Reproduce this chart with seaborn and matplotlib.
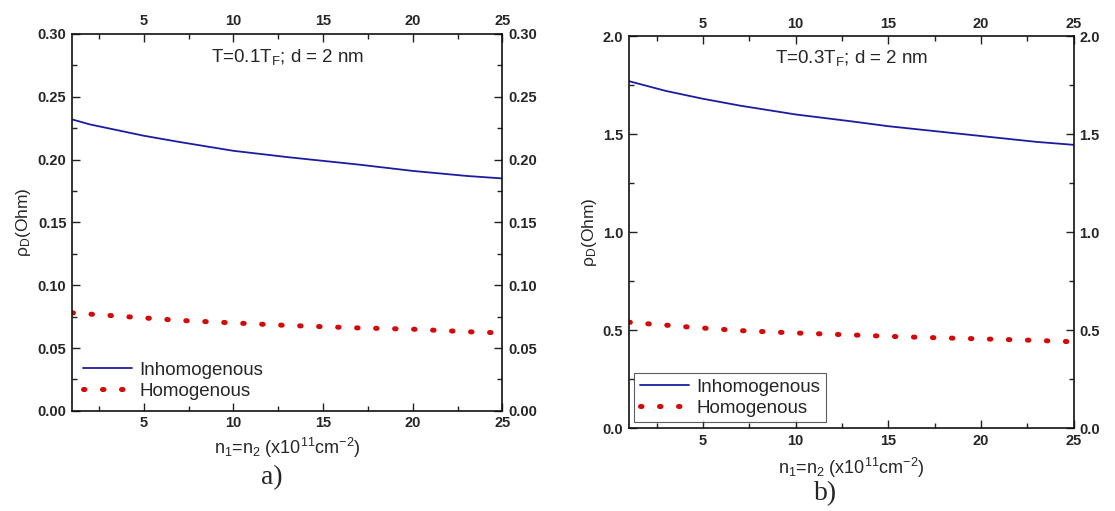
import numpy as np
import pandas as pd
import matplotlib
matplotlib.use("Agg")
import matplotlib.pyplot as plt
import seaborn as sns
from matplotlib.ticker import MultipleLocator

x_vals = [1, 2, 3, 4, 5, 7, 10, 13, 15, 17, 20, 23, 25]
inhom_a = [0.232, 0.228, 0.225, 0.222, 0.219, 0.214, 0.207, 0.202, 0.199, 0.196, 0.191, 0.187, 0.185]
hom_a = [0.078, 0.077, 0.076, 0.075, 0.074, 0.072, 0.070, 0.068, 0.067, 0.066, 0.065, 0.063, 0.062]
inhom_b = [1.77, 1.745, 1.72, 1.70, 1.68, 1.645, 1.60, 1.565, 1.54, 1.52, 1.49, 1.46, 1.445]
hom_b = [0.54, 0.532, 0.525, 0.517, 0.51, 0.497, 0.485, 0.475, 0.468, 0.462, 0.455, 0.447, 0.44]
series_names = ["Inhomogenous", "Homogenous"]
titles = [r"T=0.1T$_{\mathrm{F}}$; d = 2 nm", r"T=0.3T$_{\mathrm{F}}$; d = 2 nm"]
panel_labels = ["a)", "b)"]

sns.set_theme(style="ticks")
plt.rcParams['font.family'] = ['Liberation Sans', 'DejaVu Sans']
plt.rcParams['mathtext.fontset'] = 'custom'
plt.rcParams['mathtext.rm'] = 'Liberation Sans'
plt.rcParams['mathtext.it'] = 'Liberation Sans'
plt.rcParams['mathtext.bf'] = 'Liberation Sans:bold'

fig = plt.figure(figsize=(11.15, 5.11), dpi=100)
ax_a = fig.add_axes([0.0646, 0.196, 0.386, 0.7375])
ax_b = fig.add_axes([0.564, 0.1624, 0.399, 0.767])

blue = "#1c1ca0"
red = "#d40a0a"

def make_df(inh, hom):
    return pd.DataFrame({
        "x": x_vals * 2,
        "y": inh + hom,
        "series": [series_names[0]] * len(x_vals) + [series_names[1]] * len(x_vals),
    })

panels = [
    (ax_a, make_df(inhom_a, hom_a), (0, 0.30), 0.05, 0.025, "{:.2f}", False, titles[0], 0.94, 4),
    (ax_b, make_df(inhom_b, hom_b), (0, 2.0), 0.5, 0.25, "{:.1f}", True, titles[1], 0.945, 6),
]

for ax, df, ylim, maj, mnr, fmt, framed, title, ty, lpad in panels:
    sns.lineplot(data=df[df.series == series_names[0]], x="x", y="y", ax=ax,
                 color=blue, linewidth=1.3, label=series_names[0])
    sns.lineplot(data=df[df.series == series_names[1]], x="x", y="y", ax=ax,
                 color=red, linewidth=3.6, label=series_names[1])
    ax.lines[1].set_linestyle((0, (0.3, 3.5)))
    ax.lines[1].set_dash_capstyle("round")
    ax.set_xlim(1, 25)
    ax.set_ylim(*ylim)
    ax.xaxis.set_minor_locator(MultipleLocator(2.5))
    ax.yaxis.set_minor_locator(MultipleLocator(mnr))
    ax.set_xticks([5, 10, 15, 20, 25])
    ax.set_xticklabels(["5", "10", "15", "20", "25"])
    yt = np.arange(ylim[0], ylim[1] + maj / 2, maj)
    ax.set_yticks(yt)
    ax.set_yticklabels([fmt.format(v) for v in yt])
    ax.tick_params(which="both", direction="in", top=True, right=True,
                   labeltop=True, labelright=True, color="#222222", width=1.0)
    ax.tick_params(which="major", length=6, labelsize=10.5, pad=4)
    ax.tick_params(which="minor", length=3.5)
    for sp in ax.spines.values():
        sp.set_linewidth(1.2)
        sp.set_color("#111111")
    ax.set_xlabel(r"n$_1$=n$_2$ (x10$^{11}$cm$^{-2}$)", fontsize=13, labelpad=lpad)
    ax.set_ylabel(r"ρ$_{\mathrm{D}}$(Ohm)", fontsize=12.5, labelpad=3)
    ax.text(0.5, ty, title, transform=ax.transAxes, ha="center", va="center", fontsize=13.5)
    leg = ax.legend(loc="lower left", frameon=framed, fontsize=13.5, handlelength=2.6,
                    borderaxespad=0.3, handletextpad=0.4, labelspacing=0.2, fancybox=False,
                    borderpad=0.3)
    if framed:
        leg.get_frame().set_edgecolor("#333333")
        leg.get_frame().set_linewidth(0.8)
    ax.grid(False)

for ax in (ax_a, ax_b):
    for t in ax.xaxis.get_major_ticks() + ax.yaxis.get_major_ticks():
        t.label1.set_fontweight("bold")
        t.label2.set_fontweight("bold")

fig.text(272 / 1115, 1 - 478 / 511, panel_labels[0], ha="center", va="center",
         fontsize=20, family="Liberation Serif")
fig.text(826 / 1115, 1 - 494 / 511, panel_labels[1], ha="center", va="center",
         fontsize=20, family="Liberation Serif")

fig.savefig("out.png", dpi=100, facecolor="white")
